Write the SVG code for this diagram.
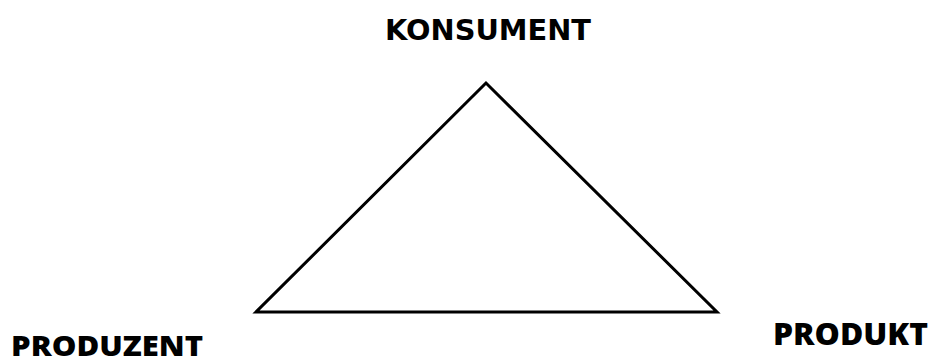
<svg xmlns="http://www.w3.org/2000/svg" width="931" height="361" viewBox="0 0 931 361">
<style>
.lbl{font-family:"DejaVu Sans","Verdana",sans-serif;font-weight:bold;fill:#000}
.lbl2{font-family:"Open Sans","Noto Sans",sans-serif;font-weight:800;fill:#000}
.tri{fill:none;stroke:#000;stroke-width:3;stroke-linejoin:miter}
</style>
<rect width="931" height="361" fill="#fff"/>
<g id="triangle"><polygon class="tri" points="486,83 256,312 717,312"/></g>
<g id="konsument"><text class="lbl" x="385" y="40" font-size="29" textLength="206" lengthAdjust="spacingAndGlyphs">KONSUMENT</text></g>
<g id="produzent"><text class="lbl2" x="11" y="356" font-size="28" textLength="192" lengthAdjust="spacingAndGlyphs">PRODUZENT</text></g>
<g id="produkt"><text class="lbl2" x="773" y="345" font-size="30" textLength="155" lengthAdjust="spacingAndGlyphs">PRODUKT</text></g>
</svg>
